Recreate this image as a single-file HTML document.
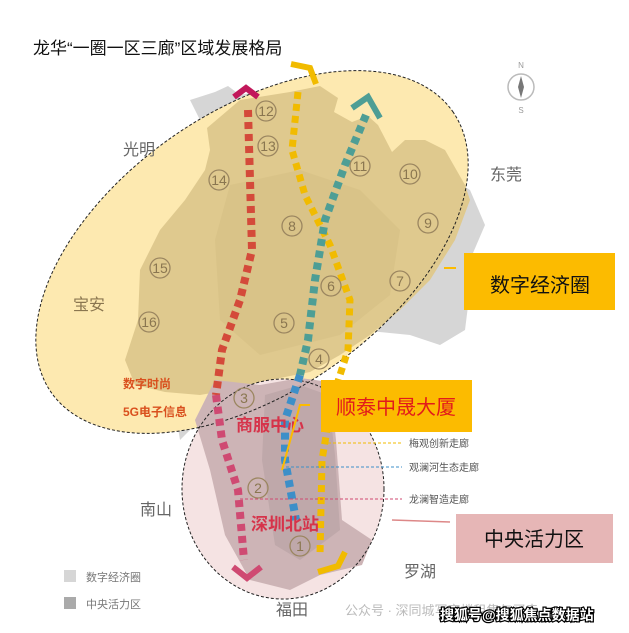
<!DOCTYPE html>
<html><head><meta charset="utf-8"><style>
body{margin:0;background:#fff;}
svg{display:block;font-family:"Liberation Sans","Noto Sans CJK SC",sans-serif;}
</style></head><body>
<svg width="629" height="633" viewBox="0 0 629 633">
<rect width="629" height="633" fill="#fff"/>
<text x="33" y="54" font-size="17" fill="#111">龙华“一圈一区三廊”区域发展格局</text>
<!-- compass -->
<text x="521" y="68" font-size="8" fill="#999" text-anchor="middle">N</text>
<circle cx="521" cy="87" r="13" fill="none" stroke="#bbb" stroke-width="1.5"/>
<path d="M521 76 L524 87 L521 98 L518 87Z" fill="#777"/>
<text x="521" y="113" font-size="8" fill="#999" text-anchor="middle">S</text>
<!-- grey surroundings -->
<path d="M190 100 L215 92 L228 86 L240 95 L290 85 L330 75 L335 95 L345 110 L470 190 L485 225 L470 260 L470 290 L465 330 L440 345 L410 335 L360 330 L320 370 L260 400 L200 420 L180 440 L175 410 L188 385 L190 340 L200 300 L210 220 L205 130Z" fill="#d6d6d6"/>
<!-- big ellipse -->
<ellipse cx="252" cy="252" rx="245" ry="140" transform="rotate(-35 252 252)" fill="#fde9b0"/>
<!-- longhua tan region -->
<path d="M207 128 L240 100 L290 92 L320 86 L338 98 L334 112 L352 122 L368 116 L378 125 L392 152 L405 140 L425 140 L445 150 L465 185 L470 200 L455 240 L430 280 L400 310 L370 335 L340 355 L310 372 L270 380 L240 388 L200 395 L165 392 L135 385 L125 360 L138 320 L140 270 L160 230 L185 200 L205 170 L210 150Z" fill="#dfc98e"/>
<path d="M230 185 L300 170 L360 190 L400 230 L390 295 L340 335 L260 355 L220 320 L215 240Z" fill="#d6bf84" opacity="0.6"/>
<!-- central pink ellipse -->
<ellipse cx="283" cy="489" rx="101" ry="110" fill="#f5e3e3"/>
<path d="M215 380 L260 385 L300 378 L330 382 L336 440 L342 520 L372 540 L362 565 L320 575 L290 590 L250 580 L225 535 L210 470 L195 420Z" fill="#cdb4b6"/>
<path d="M265 395 L300 385 L328 395 L335 455 L340 530 L300 560 L275 545 L262 460Z" fill="#bfa8aa"/>
<!-- ellipse outlines -->
<ellipse cx="252" cy="252" rx="245" ry="140" transform="rotate(-35 252 252)" fill="none" stroke="#222" stroke-width="1" stroke-dasharray="3,2"/>
<ellipse cx="283" cy="489" rx="101" ry="110" fill="none" stroke="#222" stroke-width="1" stroke-dasharray="3,2"/>
<!-- corridors -->
<path d="M248 110 L250 180 L252 250 L240 300 L222 350 L216 395" fill="none" stroke="#d44a3a" stroke-width="8" stroke-dasharray="7,5"/>
<path d="M216 395 L222 440 L238 490 L244 560" fill="none" stroke="#cf4a72" stroke-width="8" stroke-dasharray="7,5"/>
<path d="M233 567 L247 578 L261 567" fill="none" stroke="#cf4a72" stroke-width="6"/>
<path d="M234 97 L246 88 L258 97" fill="none" stroke="#c2185b" stroke-width="6"/>
<path d="M298 92 L292 150 L305 195 L330 245 L350 300 L348 350 L332 400 L322 460 L320 555" fill="none" stroke="#f1bb00" stroke-width="7" stroke-dasharray="7,5"/>
<path d="M291 64 L310 68 L316 84" fill="none" stroke="#f1bb00" stroke-width="6"/>
<path d="M318 572 L338 566 L345 552" fill="none" stroke="#f1bb00" stroke-width="6"/>
<path d="M366 115 L345 165 L325 220 L315 280 L308 340 L300 375" fill="none" stroke="#4e9e95" stroke-width="8" stroke-dasharray="7,5"/>
<path d="M300 375 L285 420 L285 460 L296 520" fill="none" stroke="#3d8fc8" stroke-width="8" stroke-dasharray="7,5"/>
<path d="M352 108 L368 97 L380 118" fill="none" stroke="#4e9e95" stroke-width="6"/>
<!-- numbers -->
<g fill="none" stroke="#9b8660" stroke-width="1.3">
<circle cx="266" cy="111" r="10"/><circle cx="268" cy="146" r="10"/><circle cx="219" cy="180" r="10"/><circle cx="360" cy="166" r="10"/><circle cx="410" cy="174" r="10"/><circle cx="292" cy="226" r="10"/><circle cx="428" cy="223" r="10"/><circle cx="160" cy="268" r="10"/><circle cx="400" cy="281" r="10"/><circle cx="331" cy="286" r="10"/><circle cx="149" cy="322" r="10"/><circle cx="284" cy="323" r="10"/><circle cx="319" cy="359" r="10"/><circle cx="244" cy="398" r="10"/><circle cx="258" cy="488" r="10"/><circle cx="300" cy="546" r="10"/></g>
<g font-size="14" fill="#8a7650" text-anchor="middle">
<text x="266" y="116">12</text><text x="268" y="151">13</text><text x="219" y="185">14</text><text x="360" y="171">11</text><text x="410" y="179">10</text><text x="292" y="231">8</text><text x="428" y="228">9</text><text x="160" y="273">15</text><text x="400" y="286">7</text><text x="331" y="291">6</text><text x="149" y="327">16</text><text x="284" y="328">5</text><text x="319" y="364">4</text><text x="244" y="403">3</text><text x="258" y="493">2</text><text x="300" y="551">1</text>
</g>
<!-- place labels -->
<g font-size="16" fill="#666">
<text x="123" y="155">光明</text><text x="490" y="180">东莞</text><text x="73" y="310" fill="#8a7650">宝安</text><text x="140" y="515">南山</text><text x="404" y="577">罗湖</text><text x="276" y="615">福田</text>
</g>
<text x="123" y="388" font-size="12" fill="#d9501e" font-weight="bold">数字时尚</text>
<text x="123" y="416" font-size="12" fill="#d9501e" font-weight="bold">5G电子信息</text>
<text x="236" y="431" font-size="17" fill="#d6334a" font-weight="bold">商服中心</text>
<text x="251" y="530" font-size="17" fill="#d6334a" font-weight="bold">深圳北站</text>
<!-- corridor labels -->
<line x1="328" y1="443" x2="402" y2="443" stroke="#f1bb00" stroke-dasharray="3,2"/>
<line x1="286" y1="467" x2="402" y2="467" stroke="#3d8fc8" stroke-dasharray="3,2"/>
<line x1="240" y1="499" x2="402" y2="499" stroke="#cf4a72" stroke-dasharray="3,2"/>
<g font-size="10" fill="#555">
<text x="409" y="447">梅观创新走廊</text>
<text x="409" y="471">观澜河生态走廊</text>
<text x="409" y="503">龙澜智造走廊</text>
</g>
<!-- boxes -->
<rect x="464" y="253" width="151" height="57" fill="#fcbb00"/>
<text x="540" y="292" font-size="20" fill="#111" text-anchor="middle">数字经济圈</text>
<line x1="444" y1="268" x2="456" y2="268" stroke="#fcbb00" stroke-width="2"/>
<rect x="321" y="380" width="151" height="52" fill="#fcbb00"/>
<text x="396" y="414" font-size="20" fill="#e21b1b" text-anchor="middle">顺泰中晟大厦</text>
<path d="M310 405 L300 405 L282 470" fill="none" stroke="#fcbb00" stroke-width="2"/>
<rect x="456" y="514" width="157" height="49" fill="#e6b6b6"/>
<text x="534" y="546" font-size="20" fill="#111" text-anchor="middle">中央活力区</text>
<line x1="392" y1="520" x2="450" y2="522" stroke="#d88" stroke-width="1.5"/>
<!-- legend -->
<rect x="64" y="570" width="12" height="12" fill="#d6d6d6"/>
<text x="86" y="581" font-size="11" fill="#777">数字经济圈</text>
<rect x="64" y="597" width="12" height="12" fill="#aaa"/>
<text x="86" y="608" font-size="11" fill="#777">中央活力区</text>
<text x="345" y="615" font-size="13" fill="#bbb">公众号 · 深同城写字楼租售与买卖</text>
<text x="440" y="620" font-size="14" fill="#fff" stroke="#000" stroke-width="2.5" paint-order="stroke" font-weight="bold">搜狐号@搜狐焦点数据站</text>
</svg>
</body></html>
